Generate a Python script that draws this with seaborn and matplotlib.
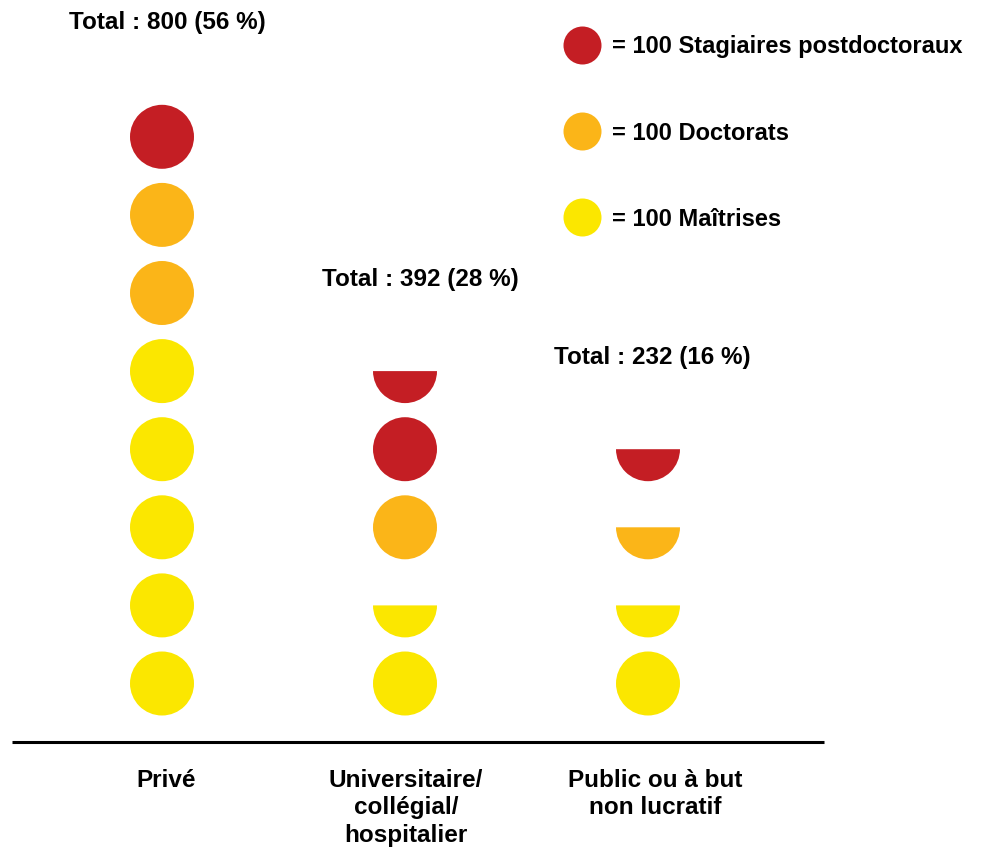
import matplotlib
matplotlib.use("Agg")
import matplotlib.pyplot as plt
from matplotlib.markers import MarkerStyle
import seaborn as sns
import pandas as pd

# ---- data ----
sectors = ["Privé", "Universitaire/\ncollégial/\nhospitalier", "Public ou à but\nnon lucratif"]
maitrises = [5, 1.5, 1.5]      # units of 100
doctorats = [2, 1, 0.5]
postdocs = [1, 1.5, 0.5]
totals = [800, 392, 232]
percents = [56, 28, 16]
types = ["Maîtrises", "Doctorats", "Stagiaires postdoctoraux"]
colors = {"Maîtrises": "#FBE700", "Doctorats": "#FBB518", "Stagiaires postdoctoraux": "#C41E24"}

# build pictogram table
rows = []
for i, sec in enumerate(sectors):
    slot = 0
    for t, vals in zip(types, [maitrises, doctorats, postdocs]):
        v = vals[i]
        full = int(v)
        for _ in range(full):
            rows.append(dict(x=i, y=slot, kind=t, shape="full"))
            slot += 1
        if v - full >= 0.5:
            rows.append(dict(x=i, y=slot, kind=t, shape="half"))
            slot += 1
df = pd.DataFrame(rows)

sns.set_theme(style="white")
plt.rcParams["font.family"] = ["Liberation Sans", "DejaVu Sans"]

W, H = 994, 854
fig = plt.figure(figsize=(W / 100, H / 100), dpi=100)

# pictogram axes: x = sector index, y = slot index
X0, DX, Y0, DY = 162, 243, 684.5, 78.1
ax = fig.add_axes([0, 0, 1, 1])
ax.axis("off")

msize = 64 * 0.72
full = df[df["shape"] == "full"]
half = df[df["shape"] == "half"]
sns.scatterplot(data=full, x="x", y="y", hue="kind", palette=colors, s=msize ** 2,
                marker="o", linewidth=0, legend=False, ax=ax)
sns.scatterplot(data=half, x="x", y="y", hue="kind", palette=colors, s=msize ** 2,
                marker=MarkerStyle("o", fillstyle="bottom"), linewidth=0, legend=False, ax=ax)
ax.set_xlim(-X0 / DX, (W - X0) / DX)
ax.set_ylim(-(H - Y0) / DY, Y0 / DY)
ax.axis("off")

# overlay in pixel coordinates for decorations
ov = fig.add_axes([0, 0, 1, 1], facecolor="none")
ov.set_xlim(0, W)
ov.set_ylim(H, 0)
ov.axis("off")

fs = 17
ov.plot([12, 824], [743, 743], color="black", lw=2.2, solid_capstyle="butt")

label_x = [166, 406, 655]
for lx, lab in zip(label_x, sectors):
    ov.text(lx, 769, lab, ha="center", va="top", fontsize=17.5, fontweight="bold",
            color="black", linespacing=1.25)

total_pos = [(167, 22), (420, 280), (652, 358)]
for (tx, ty), t, p in zip(total_pos, totals, percents):
    ov.text(tx, ty, f"Total : {t} ({p} %)", ha="center", va="center", fontsize=17.5,
            fontweight="bold", color="black")

leg_y = [46, 132, 218]
for ly, t in zip(leg_y, ["Stagiaires postdoctoraux", "Doctorats", "Maîtrises"]):
    ov.scatter([582], [ly], s=(38 * 0.72) ** 2, color=colors[t], linewidth=0)
    ov.text(612, ly + 1, f"= 100 {t}", ha="left", va="center", fontsize=fs,
            fontweight="bold", color="black")

fig.savefig("out.png", dpi=100)
